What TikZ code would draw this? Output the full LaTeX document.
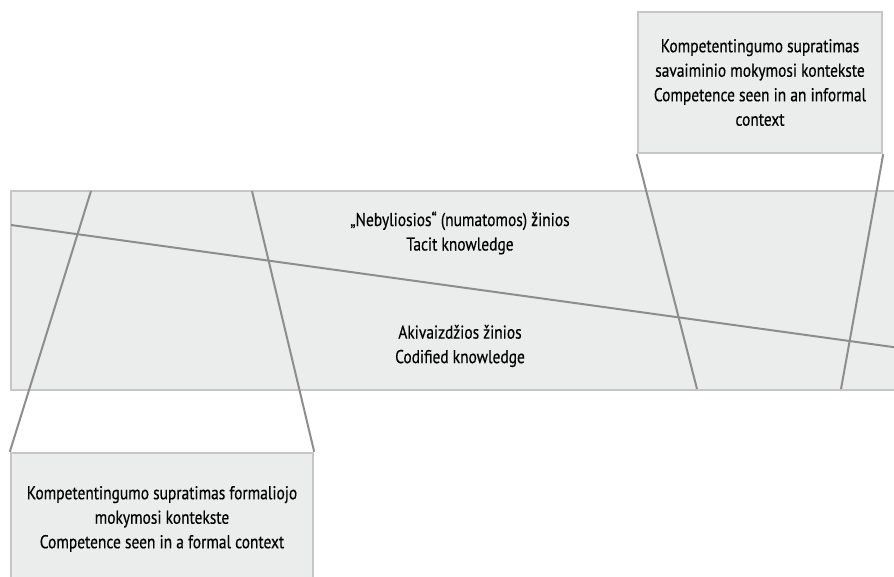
\documentclass[tikz,border=0pt]{standalone}
\usepackage{fontspec}
\setmainfont{PT Sans}[FakeStretch=0.83,FakeBold=0.4]
\usepackage{xcolor}
\usepackage{tikz}
\definecolor{boxfill}{HTML}{EBECEC}
\definecolor{boxline}{HTML}{C6C6C6}
\definecolor{linkline}{HTML}{8D8D8D}
\tikzset{
  panel/.style={draw=boxline,fill=boxfill,line width=2.4pt,inner sep=0pt},
  caption/.style={align=center,font=\fontsize{18.6}{24.5}\selectfont},
  link/.style={draw=linkline,line width=2pt}
}

\begin{document}
\begin{tikzpicture}[x=1pt,y=-1pt]
		\useasboundingbox (0,0) rectangle (894,576);
		\node[panel,minimum width=900,minimum height=199] (band) at (461,290.5) {};
		\node[panel,minimum width=244,minimum height=141] (inf) at (760,82.5) {};
		\node[panel,minimum width=302,minimum height=134] (form) at (162,520) {};
		%
		\coordinate (d1) at (11,225);
		\coordinate (d2) at (900,348);
		\coordinate (f1) at (91,191);
		\coordinate (f2) at (252,191);
		\coordinate (i1) at (697,389);
		\coordinate (i2) at (841,389);
		%
		\path[link]
		(d1) edge (d2)
		(form.north west) edge (f1)
		(form.north east) edge (f2)
		(inf.south west) edge (i1)
		(inf.south east) edge (i2);
		%
		\node[caption] (tacit) at (460,233) {„Nebyliosios“ (numatomos) žinios\\Tacit knowledge};
		\node[caption] (codified) at (460,346) {Akivaizdžios žinios\\Codified knowledge};
		\node[caption] (infText) at (760,82.5) {Kompetentingumo supratimas\\savaiminio mokymosi kontekste\\Competence seen in an informal\\context};
		\node[caption] (formText) at (162,519) {Kompetentingumo supratimas formaliojo\\mokymosi kontekste\\Competence seen in a formal context};
\end{tikzpicture}
\end{document}
